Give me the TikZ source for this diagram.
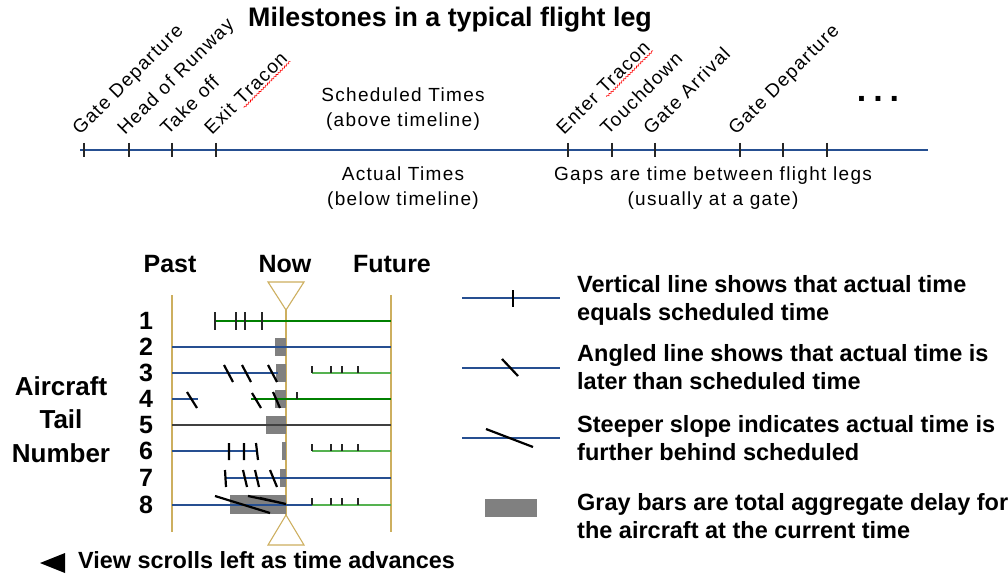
\documentclass[tikz,border=0pt]{standalone}
\usepackage{fontspec}
\setmainfont{Liberation Sans}
\newfontfamily\spaced[LetterSpace=7]{Liberation Sans}
\usetikzlibrary{decorations.pathmorphing}
\definecolor{lineblue}{RGB}{38,79,145}
\definecolor{gold}{RGB}{205,175,95}
\definecolor{dkgreen}{RGB}{0,128,0}
\definecolor{ltgreen}{RGB}{85,178,80}
\definecolor{bargray}{RGB}{128,128,128}
\newcommand\wavy[1]{\tikz[baseline=(w.base)]{\node[inner sep=0pt] (w) {#1};
  \draw[red, line width=0.6pt, decorate, decoration={snake, amplitude=0.8pt, segment length=3pt}]
    ([yshift=-2.5pt]w.base west) -- ([yshift=-2.5pt]w.base east);}}
\begin{document}
\begin{tikzpicture}[x=1pt,y=-1pt,
  tl/.style={lineblue, line width=1.1pt},
  gl/.style={dkgreen, line width=1.1pt},
  lgl/.style={ltgreen, line width=1.3pt},
  tick/.style={black!85, line width=2.3pt},
  slash/.style={black, line width=2.2pt},
  guide/.style={gold, line width=1.1pt},
  bar/.style={fill=bargray, draw=none},
  hd/.style={font=\bfseries\fontsize{25}{30}\selectfont, anchor=base, inner sep=0pt},
  ms/.style={font=\spaced\fontsize{19}{21}\selectfont, rotate=45, anchor=base west, inner sep=0pt},
  note/.style={font=\spaced\fontsize{19}{25}\selectfont, align=center, anchor=base, inner sep=0pt},
  legend/.style={font=\bfseries\fontsize{23.5}{27.5}\selectfont, align=left, anchor=base west, inner sep=0pt}]

\useasboundingbox[fill=white] (0,0) rectangle (1008,577);

\node[font=\bfseries\fontsize{26.8}{28}\selectfont, anchor=base, inner sep=0pt] (title) at (450,27) {Milestones in a typical flight leg};

\draw[tl] (80,150) -- (928,150);
\foreach \x in {84,129,172,216,568,612,655,740,783,827}
  \draw[tick] (\x,143) -- (\x,157);
\foreach \x/\t [count=\i] in {84/Gate Departure,129/Head of Runway,172/Take off,216/Exit \wavy{Tracon},
    568/Enter \wavy{Tracon},612/Touchdown,655/Gate Arrival,740/Gate Departure}
  \node[ms] (ms\i) at (\x-4,136) {\t};
\node[font=\bfseries\fontsize{34}{34}\selectfont, anchor=base, inner sep=0pt] (more) at (878,102) {.\hspace{7pt}.\hspace{7pt}.};

\node[note] (sched) at (403,127) {Scheduled Times\\(above timeline)};
\node[note] (actual) at (403,206) {Actual Times\\(below timeline)};
\node[note] (gaps) at (713,206) {Gaps are time between flight legs\\(usually at a gate)};

\node[hd] (past) at (170,272) {Past};
\node[hd] (now) at (285,272) {Now};
\node[hd] (future) at (392,272) {Future};
\node[hd, align=center, font=\bfseries\fontsize{26}{33.5}\selectfont] (tail) at (61,462) {Aircraft\\Tail\\Number};
\foreach \n/\y in {1/321,2/347,3/373,4/399,5/425,6/451,7/478,8/505}
  \node[hd] (row\n) at (146,\y+8) {\n};

\draw[guide] (172,295) -- (172,532);
\draw[guide] (391,295) -- (391,532);
\draw[guide] (286,310) -- (286,515);
\draw[guide] (268,282) -- (304,282) -- (286,310) -- cycle;
\draw[guide] (286,515) -- (304,545) -- (268,545) -- cycle;

\fill[bar] (275,338) rectangle (286,356);
\fill[bar] (276,364) rectangle (286,382);
\fill[bar] (275,390) rectangle (286,408);
\fill[bar] (266,416) rectangle (286,434);
\fill[bar] (282,442) rectangle (286,460);
\fill[bar] (280,469) rectangle (286,487);
\fill[bar] (230,495) rectangle (286,514);

\draw[gl] (215,321) -- (391,321);
\foreach \x in {215,236,245,262}
  \draw[tick] (\x,312) -- (\x,330);

\draw[tl] (172,347) -- (391,347);

\draw[tl] (172,373) -- (278,373);
\draw[slash] (224,365) -- (233,382) (242,365) -- (251,382) (268,365) -- (277,382);

\draw[tl] (172,399) -- (198,399);
\draw[gl] (251,399) -- (391,399);
\draw[slash] (187,392) -- (197,408) (252,393) -- (261,408) (273,392) -- (280,408);
\draw[tick] (297,392) -- (297,399);

\draw[black!75, line width=1.1pt] (172,425) -- (391,425);

\draw[tl] (172,451) -- (257,451);
\draw[slash] (229,443) -- (229,460) (244,443) -- (244,460) (256,443) -- (258,460);

\draw[tl] (225,478) -- (391,478);
\draw[slash] (225,470) -- (226,487) (243,470) -- (247,487) (255,470) -- (259,487) (270,470) -- (277,487);

\draw[tl] (172,505) -- (312,505);
\draw[slash] (215,496) -- (270,513) (248,496) -- (286,504) (260,498) -- (286,504);

\foreach \y in {373,451,505} {
  \draw[lgl] (312,\y) -- (391,\y);
  \foreach \x in {312,331,342,358}
    \draw[tick] (\x,\y-7) -- (\x,\y);
}

\draw[tl] (462,298) -- (560,298);
\draw[slash] (513,290) -- (513,307);
\node[legend] (leg1) at (577,320) {Vertical line shows that actual time\\equals scheduled time};
\draw[tl] (462,368) -- (560,368);
\draw[slash] (502,359) -- (518,376);
\node[legend] (leg2) at (577,389) {Angled line shows that actual time is\\later than scheduled time};
\draw[tl] (462,438) -- (560,438);
\draw[slash] (486,429) -- (533,447);
\node[legend] (leg3) at (577,460) {Steeper slope indicates actual time is\\further behind scheduled};
\fill[bar] (485,499) rectangle (537,517);
\node[legend] (leg4) at (577,538) {Gray bars are total aggregate delay for\\the aircraft at the current time};

\fill (40,563) -- (65,553) -- (65,573) -- cycle;
\node[font=\bfseries\fontsize{23.4}{25}\selectfont, anchor=base west, inner sep=0pt] (scroll) at (78,568) {View scrolls left as time advances};
\end{tikzpicture}
\end{document}
